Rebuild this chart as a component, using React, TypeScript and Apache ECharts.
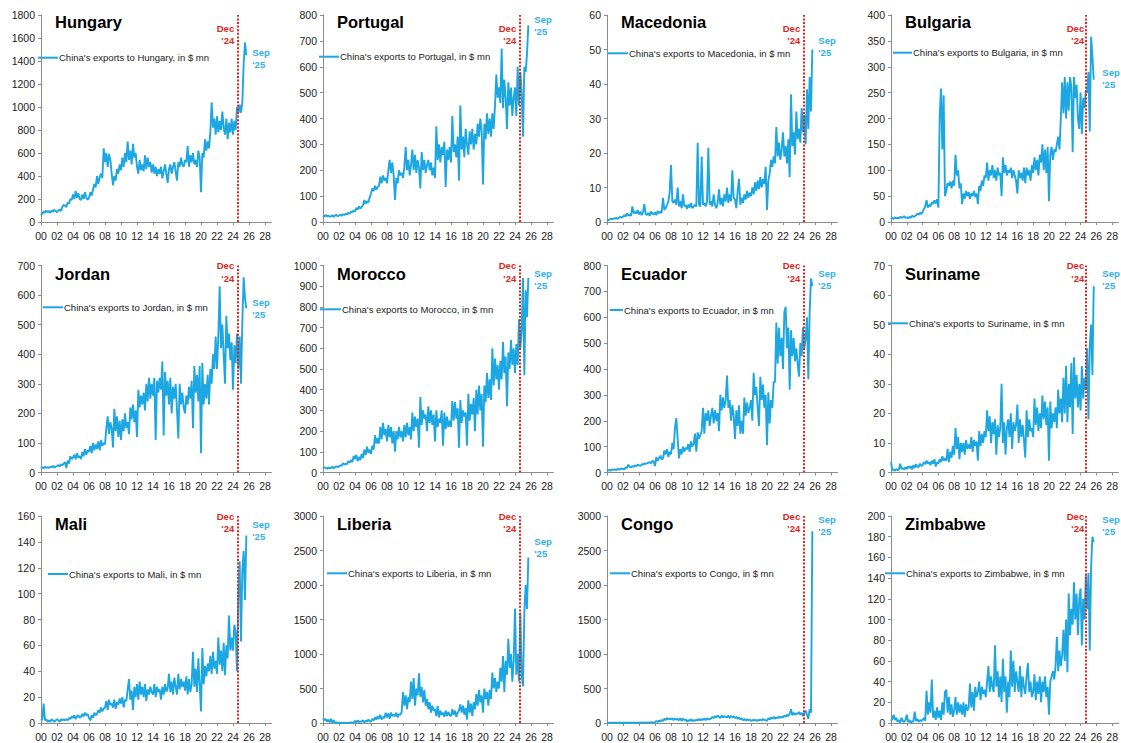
import React, { useEffect, useRef } from "react";
import * as echarts from "echarts";

// ---------- DATA (every other month: Jan, Mar, May, Jul, Sep, Nov; Jan 2000 .. Sep 2025) ----------
const COUNTRIES = ["Hungary", "Portugal", "Macedonia", "Bulgaria", "Jordan", "Morocco", "Ecuador", "Suriname", "Mali", "Liberia", "Congo", "Zimbabwe"];
const X_TICK_LABELS = ["00", "02", "04", "06", "08", "10", "12", "14", "16", "18", "20", "22", "24", "26", "28"];
const Y_MAX = [1800, 800, 60, 400, 700, 1000, 800, 70, 160, 3000, 3000, 200];
const Y_STEP = [200, 100, 10, 50, 100, 100, 100, 10, 20, 500, 500, 20];
const DEC24_X = 24.65;
const MONTHS_PER_POINT = 2;

const hungary = [
  60, 75, 90, 80, 100, 85,
  95, 80, 100, 90, 105, 95,
  85, 100, 110, 95, 130, 150,
  140, 130, 170, 160, 200, 190,
  240, 200, 270, 210, 250, 200,
  190, 240, 200, 260, 210, 195,
  210, 260, 230, 280, 330, 300,
  400, 330, 390, 420, 380, 640,
  520, 600, 480, 590, 540, 420,
  320, 400, 360, 460, 420, 500,
  450, 560, 480, 600, 520, 700,
  540, 620, 500, 680, 560, 600,
  480, 420, 540, 450, 500, 440,
  580, 460, 560, 480, 520, 430,
  500, 420, 480, 400, 460, 420,
  480, 380, 440, 500, 420, 340,
  460, 500, 420, 480, 520, 440,
  360, 520, 480, 560, 500, 480,
  540, 520, 660, 480, 580, 520,
  600, 500, 540, 480, 620, 560,
  260, 600, 560, 720, 620, 700,
  640, 780, 1040, 820, 900, 760,
  920, 780, 880, 800, 960, 820,
  760, 900, 720, 860, 780, 900,
  760, 880, 800, 1000, 950, 1020,
  950, 1040, 1380, 1560, 1450,
];
const portugal = [
  25, 20, 28, 22, 25, 20,
  22, 26, 20, 25, 28, 22,
  25, 28, 24, 30, 27, 32,
  30, 35, 32, 40, 38, 45,
  40, 55, 48, 60, 52, 58,
  65, 85, 70, 80, 75, 95,
  110, 130, 120, 140, 125, 135,
  140, 175, 150, 180, 160, 170,
  150, 200, 240, 190, 230, 180,
  85, 170, 150, 200, 180, 190,
  170, 210, 290, 200, 240, 180,
  220, 280, 200, 260, 190, 240,
  210, 130, 270, 200, 240, 190,
  220, 240, 200, 230, 180, 210,
  170, 370, 240, 300, 230, 290,
  260, 310, 135, 280, 240, 290,
  230, 410, 270, 300, 250, 330,
  160, 450, 280, 330, 250, 360,
  300, 260, 350, 300, 360, 280,
  340, 300, 380, 330, 400, 350,
  145, 380, 320, 420, 340, 400,
  330, 420, 360, 450, 570, 480,
  520, 460, 670, 440, 550, 480,
  360, 540, 450, 520, 410, 480,
  520, 410, 600, 450, 580, 500,
  330, 600, 580, 650, 760,
];
const macedonia = [
  0.3, 0.5, 0.8, 1.0, 0.8, 1.0,
  1.0, 1.2, 0.9, 1.3, 1.5, 1.2,
  1.5, 2.0, 1.6, 2.5, 1.8, 2.2,
  1.8, 4.5, 2.5, 3.0, 2.4, 3.5,
  2.2, 3.0, 2.0, 2.8, 5.2, 2.3,
  2.0, 2.6, 1.8, 3.0, 2.5, 2.2,
  2.8, 2.0, 3.2, 2.5, 3.0, 2.6,
  7.0, 3.5, 4.0, 5.0, 6.0, 8.5,
  16.5, 6.0, 5.5, 6.5, 5.0, 10.0,
  4.5, 6.0, 4.0, 8.0, 4.5, 5.0,
  3.8, 5.0, 4.2, 5.5, 4.0, 4.5,
  5.0, 4.5, 23.0, 5.0, 4.5, 19.0,
  5.0, 5.5, 4.5, 6.0, 21.5, 5.0,
  6.0, 4.5, 8.0, 5.0, 4.0, 5.5,
  9.5, 5.0, 7.0, 4.5, 8.0, 6.0,
  10.0, 5.5, 8.0, 6.0, 15.0, 7.0,
  6.5, 4.0, 9.0, 12.5, 5.0, 7.0,
  5.5, 8.0, 6.5, 9.0, 7.0, 8.5,
  7.5, 10.0, 8.0, 11.5, 9.0, 12.0,
  9.5, 13.0, 10.0, 12.5, 11.0, 16.0,
  3.5, 12.0, 14.0, 18.0, 16.0, 19.0,
  17.0, 27.5, 19.0, 23.0, 18.0, 21.0,
  26.0, 19.0, 22.0, 17.0, 24.0, 13.0,
  37.0, 22.0, 26.0, 19.5, 32.0, 24.0,
  27.0, 23.0, 33.0, 26.0, 31.0, 22.5,
  38.5, 27.0, 42.0, 32.0, 50.0,
];
const bulgaria = [
  5, 8, 6, 9, 7, 8,
  7, 10, 8, 9, 11, 8,
  9, 7, 10, 8, 12, 10,
  11, 13, 16, 14, 18, 15,
  20, 25, 30, 42, 28, 33,
  30, 38, 35, 42, 36, 44,
  28, 205, 258, 140, 245, 50,
  60, 75, 70, 78, 65, 80,
  70, 130, 90, 100, 65, 75,
  35, 55, 45, 60, 50, 58,
  45, 55, 50, 60, 48, 55,
  35, 70, 60, 80, 70, 90,
  85, 115, 80, 100, 90, 110,
  85, 100, 80, 105, 90, 95,
  50, 125, 95, 110, 90, 100,
  95, 105, 85, 100, 90, 80,
  55, 100, 85, 95, 80, 105,
  75, 105, 90, 100, 80, 110,
  95, 125, 100, 120, 90, 130,
  115, 150, 100, 140, 95, 145,
  40, 130, 145, 120, 140, 135,
  150, 165, 140, 200, 270, 210,
  280, 200, 270, 215, 280, 260,
  135, 280, 240, 265, 200, 180,
  250, 170, 240, 220, 255, 250,
  290, 175, 358, 320, 275,
];
const jordan = [
  15, 18, 14, 20, 16, 18,
  15, 20, 18, 22, 17, 20,
  22, 25, 20, 28, 24, 30,
  35, 15, 40, 30, 55, 45,
  50, 60, 45, 65, 50, 55,
  45, 70, 55, 80, 60, 75,
  70, 90, 65, 100, 75, 95,
  80, 105, 75, 110, 90, 100,
  95, 150, 190, 130, 170, 150,
  85, 215, 140, 190, 120, 175,
  110, 180, 140, 200, 150, 170,
  130, 220, 180, 230, 170, 210,
  120, 280, 220, 260, 230, 270,
  210, 300, 240, 320, 250, 300,
  260, 320, 110, 310, 270, 320,
  280, 375, 125, 340, 260, 310,
  230, 320, 200, 290, 250, 300,
  210, 115, 300, 230, 270, 220,
  200, 260, 230, 290, 250, 310,
  150, 360, 270, 330, 240, 360,
  65, 370, 230, 300, 250, 330,
  230, 350, 300, 400, 350, 460,
  350, 460, 630, 420, 500, 400,
  300, 530, 420, 470, 380, 440,
  280, 430, 370, 470, 350, 460,
  300, 510, 660, 590, 555,
];
const morocco = [
  20, 25, 22, 18, 24, 20,
  22, 28, 20, 25, 30, 26,
  30, 35, 32, 45, 38, 42,
  40, 55, 48, 60, 50, 80,
  65, 85, 55, 75, 60, 90,
  70, 110, 85, 125, 95, 110,
  90, 130, 110, 180, 140, 165,
  140, 220, 160, 240, 180, 210,
  150, 230, 170, 220, 140, 200,
  100, 200, 160, 220, 170, 200,
  150, 230, 170, 240, 180, 220,
  160, 290, 200, 270, 220, 260,
  120, 365, 230, 300, 260, 280,
  200, 320, 240, 300, 230, 280,
  150, 300, 220, 260, 240, 300,
  130, 290, 210, 270, 220, 250,
  220, 345, 250, 340, 260, 310,
  120, 350, 240, 300, 270, 290,
  130, 380, 250, 330, 280, 360,
  200, 400, 280, 420, 300, 380,
  125, 420, 340, 480, 360, 450,
  350, 600, 420, 550, 450, 520,
  400, 540, 450, 630, 480, 560,
  320, 580, 500, 640, 520, 600,
  480, 620, 520, 740, 600, 680,
  940, 470, 880, 750, 940,
];
const ecuador = [
  5, 8, 10, 7, 12, 10,
  12, 9, 14, 11, 15, 13,
  15, 12, 20, 18, 30, 22,
  20, 25, 22, 28, 24, 30,
  28, 25, 32, 30, 35, 33,
  35, 38, 40, 36, 45, 42,
  25, 60, 45, 55, 65, 50,
  55, 85, 70, 90, 60, 80,
  70, 115, 90, 175, 210, 130,
  55, 90, 70, 100, 80, 95,
  90, 110, 80, 120, 100, 110,
  150, 80, 155, 130, 145, 160,
  250, 150, 230, 200, 240, 180,
  220, 250, 190, 240, 200, 230,
  160, 300, 240, 290, 250, 280,
  375, 250, 280, 200, 260, 220,
  130, 240, 180, 260, 150, 200,
  150, 290, 220, 270, 230, 250,
  280, 200, 385, 300, 330, 250,
  180, 370, 280, 340, 250, 300,
  105, 310, 190, 280, 250, 350,
  350, 580, 420, 560, 450, 520,
  400, 620, 640, 480, 560, 320,
  550, 450, 520, 430, 480, 420,
  370, 500, 450, 560, 480, 520,
  600, 360, 620, 750, 720,
];
const suriname = [
  3.5, 0.8, 1.0, 0.6, 1.2, 0.8,
  1.0, 3.0, 1.2, 1.5, 1.0, 1.8,
  1.2, 2.0, 1.5, 2.2, 1.0, 2.5,
  1.5, 2.8, 2.0, 1.8, 3.0, 2.2,
  2.5, 3.5, 2.8, 4.0, 3.0, 3.5,
  2.5, 4.0, 3.0, 4.5, 2.0, 3.5,
  3.0, 4.5, 3.5, 5.5, 4.0, 4.8,
  4.0, 8.0, 3.5, 7.0, 5.0, 9.0,
  6.0, 15.0, 8.0, 12.0, 4.5, 10.0,
  7.0, 10.0, 6.0, 11.0, 8.0, 9.5,
  8.0, 12.0, 7.0, 11.0, 9.0, 10.5,
  4.0, 14.0, 9.0, 13.0, 10.0, 14.0,
  12.0, 21.0, 14.0, 19.0, 10.0, 17.0,
  13.0, 18.0, 6.0, 16.0, 12.0, 15.0,
  30.0, 10.0, 17.0, 6.0, 15.0, 18.0,
  12.0, 20.0, 8.0, 17.0, 14.0, 16.0,
  23.0, 10.0, 18.0, 12.0, 16.0, 11.0,
  5.0, 21.0, 12.0, 18.0, 14.0, 15.0,
  12.0, 25.0, 16.0, 22.0, 14.0, 20.0,
  15.0, 26.0, 18.0, 24.0, 16.0, 22.0,
  4.0, 24.0, 15.0, 20.0, 17.0, 22.0,
  15.0, 28.0, 20.0, 25.0, 17.0, 32.0,
  20.0, 36.0, 17.0, 30.0, 22.0, 37.0,
  13.0, 39.0, 25.0, 33.0, 22.0, 30.0,
  21.0, 36.0, 25.0, 32.0, 28.0, 42.0,
  18.0, 43.0, 50.0, 33.0, 63.0,
];
const mali = [
  2, 3, 15, 2, 3, 1,
  2, 1, 3, 2, 1, 2,
  3, 2, 1, 3, 2, 3,
  2, 3, 2, 4, 3, 5,
  4, 6, 3, 5, 6, 4,
  5, 7, 5, 8, 6, 7,
  4, 2, 6, 4, 8, 6,
  7, 10, 8, 12, 9, 11,
  12, 17, 10, 18, 14, 15,
  12, 18, 11, 16, 14, 19,
  15, 20, 12, 18, 17, 26,
  34, 18, 25, 10, 28, 20,
  30, 18, 32, 22, 28, 20,
  30, 17, 26, 22, 28, 24,
  22, 30, 20, 28, 24, 26,
  18, 28, 22, 30, 24, 27,
  38, 24, 32, 22, 35, 28,
  22, 38, 26, 34, 28, 32,
  25, 36, 22, 34, 24, 30,
  55, 28, 42, 24, 50, 30,
  9, 58, 30, 44, 36, 46,
  40, 52, 38, 55, 42, 48,
  38, 66, 45, 56, 40, 62,
  37, 60, 50, 83, 56, 66,
  56, 76, 70, 40, 100, 125,
  63, 118, 133, 95, 145,
];
const liberia = [
  70, 40, 60, 20, 50, 10,
  60, 5, 40, 0, 10, 0,
  5, 0, 3, 0, 5, 2,
  0, 5, 2, 8, 3, 10,
  30, 5, 40, 10, 25, 15,
  40, 10, 30, 20, 50, 25,
  20, 60, 40, 80, 50, 100,
  60, 120, 50, 90, 70, 150,
  80, 140, 60, 150, 100, 120,
  100, 150, 80, 130, 120, 160,
  450, 250, 400, 200, 380, 300,
  600, 350, 650, 250, 500, 400,
  720, 380, 520, 300, 480, 250,
  350, 200, 300, 150, 250, 180,
  200, 100, 250, 80, 180, 120,
  150, 90, 180, 100, 160, 110,
  100, 200, 120, 180, 90, 150,
  180, 270, 150, 250, 120, 220,
  50, 330, 150, 280, 100, 300,
  200, 420, 250, 480, 300, 400,
  150, 500, 350, 450, 250, 480,
  350, 730, 500, 650, 450, 600,
  500, 800, 600, 970, 450, 900,
  700, 1220, 800, 1000, 600, 900,
  1660, 700, 1000, 600, 1600, 700,
  530, 1600, 2000, 1650, 2400,
];
const congo = [
  3, 5, 2, 4, 3, 5,
  4, 2, 5, 3, 4, 3,
  5, 3, 4, 6, 3, 5,
  4, 6, 5, 3, 6, 4,
  5, 7, 4, 6, 8, 5,
  6, 8, 5, 10, 7, 9,
  10, 30, 15, 35, 20, 45,
  30, 60, 45, 70, 50, 65,
  55, 70, 40, 65, 50, 60,
  40, 70, 30, 60, 45, 50,
  20, 40, 30, 55, 25, 45,
  30, 50, 35, 60, 40, 55,
  45, 65, 40, 70, 50, 60,
  60, 90, 70, 100, 80, 110,
  90, 70, 110, 80, 100, 90,
  80, 110, 70, 100, 85, 95,
  70, 90, 60, 80, 50, 70,
  40, 60, 35, 55, 40, 50,
  30, 45, 35, 50, 30, 45,
  35, 50, 40, 55, 45, 40,
  30, 70, 50, 80, 60, 90,
  60, 80, 70, 95, 75, 90,
  80, 110, 90, 120, 100, 130,
  200, 110, 150, 120, 140, 130,
  160, 120, 150, 100, 140, 180,
  120, 60, 200, 150, 2780,
];
const zimbabwe = [
  2, 4, 8, 3, 5, 1,
  3, 0, 5, 2, 1, 3,
  8, 1, 3, 0, 2, 1,
  11, 2, 4, 1, 3, 2,
  3, 5, 2, 31, 8, 20,
  10, 42, 5, 12, 3, 15,
  5, 12, 3, 20, 8, 30,
  32, 10, 25, 8, 18, 6,
  12, 25, 8, 20, 10, 18,
  8, 20, 6, 18, 12, 15,
  38, 15, 30, 12, 35, 25,
  30, 40, 22, 35, 28, 32,
  25, 40, 55, 30, 45, 35,
  30, 75, 35, 50, 25, 45,
  20, 62, 30, 45, 10, 40,
  25, 70, 35, 60, 30, 50,
  40, 30, 55, 25, 45, 35,
  28, 45, 58, 30, 40, 25,
  30, 47, 22, 40, 28, 45,
  20, 40, 30, 45, 25, 35,
  8, 40, 45, 50, 42, 55,
  83, 50, 70, 55, 65, 90,
  60, 100, 49, 125, 85, 110,
  95, 136, 100, 125, 85, 120,
  130, 75, 120, 100, 143, 110,
  145, 70, 150, 180, 175,
];
const SERIES_VALUES = [hungary, portugal, macedonia, bulgaria, jordan, morocco, ecuador, suriname, mali, liberia, congo, zimbabwe];

// ---------- LAYOUT / STYLE ----------
const COL_LEFT = [41, 323, 607, 891];
const ROW_TOP = [15, 265.5, 516];
const GRID_W = 230.4;
const GRID_H = 207;
const X_MAX = 28.8;
const PX_PER_YEAR = GRID_W / X_MAX;
// legend: [lineStartX, lineEndX, y]
const LEGEND_POS = [
  [38, 58, 57.7], [319, 339, 56.7], [608, 628, 53.3], [893, 912, 52.7],
  [43, 63, 307.3], [320, 341, 309.3], [610, 623, 310], [888, 908, 323.3],
  [48, 68, 574], [327, 347, 573.3], [610, 630, 573.3], [885, 905, 573.3],
];
// "Sep '25" first-line center y
const SEP_Y = [52, 19.3, 40.7, 72.7, 302.3, 273.3, 273.3, 273.3, 524, 541.7, 519, 519];
const DEC_Y = [28.3, 265.7, 516.5];

const BLUE = "#1DA7E2";
const SEP_BLUE = "#33B0E6";
const RED = "#E1251B";
const AXIS = "#8C8C8C";
const FONT = "'Liberation Sans', Arial, sans-serif";

export default function App() {
  const ref = useRef<HTMLDivElement>(null);

  useEffect(() => {
    if (!ref.current) return;
    const chart = echarts.init(ref.current, undefined, { renderer: "svg" });
    const idx = COUNTRIES.map((_, i) => i);

    const grids = idx.map((i) => ({
      left: COL_LEFT[i % 4],
      top: ROW_TOP[Math.floor(i / 4)],
      width: GRID_W,
      height: GRID_H,
      containLabel: false,
    }));

    const xAxes = idx.map((i) => ({
      gridIndex: i,
      type: "value",
      min: 0,
      max: X_MAX,
      interval: 2,
      axisLine: { show: true, lineStyle: { color: AXIS, width: 1 } },
      axisTick: { show: true, length: 3, lineStyle: { color: AXIS } },
      splitLine: { show: false },
      axisLabel: {
        fontSize: 10.5,
        color: "#222",
        fontFamily: FONT,
        margin: 8,
        showMaxLabel: false,
        formatter: (v: number) => (v % 2 === 0 && v / 2 < X_TICK_LABELS.length ? X_TICK_LABELS[v / 2] : ""),
      },
    }));

    const yAxes = idx.map((i) => ({
      gridIndex: i,
      type: "value",
      min: 0,
      max: Y_MAX[i],
      interval: Y_STEP[i],
      axisLine: { show: true, lineStyle: { color: AXIS, width: 1 } },
      axisTick: { show: true, length: 3, lineStyle: { color: AXIS } },
      splitLine: { show: false },
      axisLabel: {
        fontSize: 10.5,
        color: "#222",
        fontFamily: FONT,
        margin: 6,
        formatter: (v: number) => String(v),
      },
    }));

    const series = idx.map((i) => ({
      name: `China's exports to ${COUNTRIES[i]}, in $ mn`,
      type: "line",
      xAxisIndex: i,
      yAxisIndex: i,
      symbol: "none",
      lineStyle: { color: BLUE, width: 1.9 },
      itemStyle: { color: BLUE },
      data: SERIES_VALUES[i].map((v, j) => [(j * MONTHS_PER_POINT) / 12, v]),
      markLine: {
        silent: true,
        symbol: ["none", "none"],
        label: { show: false },
        lineStyle: { color: RED, type: [2, 1.6], width: 2 },
        data: [{ xAxis: DEC24_X }],
      },
    }));

    const graphics: any[] = [];
    idx.forEach((i) => {
      const left = COL_LEFT[i % 4];
      const row = Math.floor(i / 4);
      const top = ROW_TOP[row];
      // title
      graphics.push({
        type: "text",
        x: left + 14,
        y: top + (row === 0 ? 7 : 8),
        silent: true,
        style: {
          text: COUNTRIES[i],
          fill: "#000",
          font: `bold 16.5px ${FONT}`,
          textAlign: "left",
          textVerticalAlign: "middle",
          align: "left",
          verticalAlign: "middle",
        },
      });
      // legend
      const [lx0, lx1, ly] = LEGEND_POS[i];
      graphics.push({
        type: "line",
        silent: true,
        shape: { x1: lx0, y1: ly, x2: lx1, y2: ly },
        style: { stroke: BLUE, lineWidth: 2 },
      });
      graphics.push({
        type: "text",
        x: lx1 + 1,
        y: ly,
        silent: true,
        style: {
          text: `China's exports to ${COUNTRIES[i]}, in $ mn`,
          fill: "#222",
          font: `9.5px ${FONT}`,
          textAlign: "left",
          textVerticalAlign: "middle",
          align: "left",
          verticalAlign: "middle",
        },
      });
      // Dec '24
      const redX = left + DEC24_X * PX_PER_YEAR;
      ["Dec", "'24"].forEach((t, k) => {
        graphics.push({
          type: "text",
          x: redX - 4,
          y: DEC_Y[row] + k * 12.4,
          silent: true,
          style: {
            text: t,
            fill: RED,
            font: `bold 9.5px ${FONT}`,
            textAlign: "right",
            textVerticalAlign: "middle",
            align: "right",
            verticalAlign: "middle",
          },
        });
      });
      // Sep '25
      const endX = left + ((SERIES_VALUES[i].length - 1) * MONTHS_PER_POINT / 12) * PX_PER_YEAR;
      ["Sep", "'25"].forEach((t, k) => {
        graphics.push({
          type: "text",
          x: endX + 6,
          y: SEP_Y[i] + k * 12,
          silent: true,
          style: {
            text: t,
            fill: SEP_BLUE,
            font: `bold 9.5px ${FONT}`,
            textAlign: "left",
            textVerticalAlign: "middle",
            align: "left",
            verticalAlign: "middle",
          },
        });
      });
    });

    chart.setOption({
      animation: false,
      backgroundColor: "#fff",
      textStyle: { fontFamily: FONT },
      grid: grids,
      xAxis: xAxes,
      yAxis: yAxes,
      series,
      graphic: { elements: graphics },
    });

    return () => chart.dispose();
  }, []);

  return (
    <div
      ref={ref}
      style={{ position: "absolute", left: 0, top: 0, width: 1121, height: 743, background: "#fff" }}
    />
  );
}
